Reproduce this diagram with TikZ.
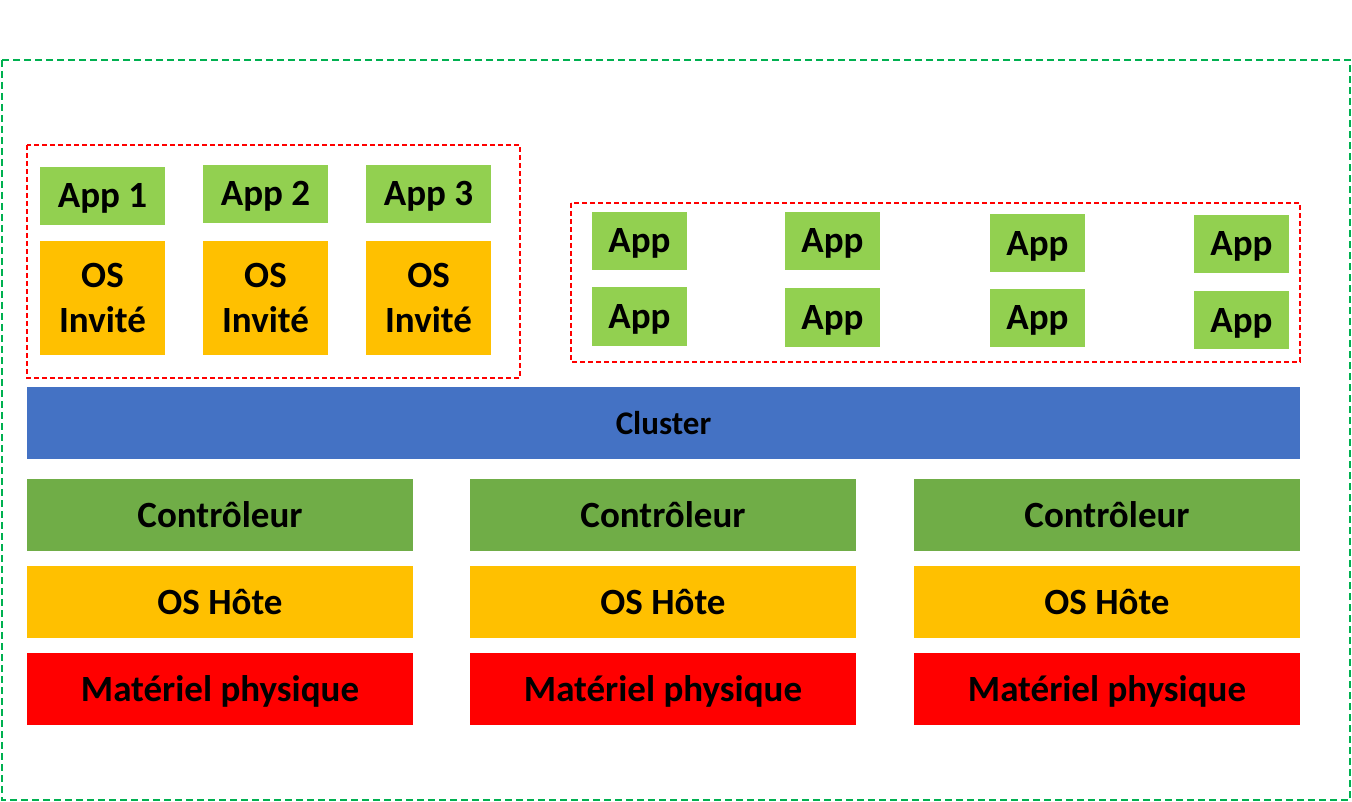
\documentclass[tikz,border=0pt]{standalone}
\usepackage{fontspec}
\setmainfont{Carlito}
\usetikzlibrary{positioning}
\definecolor{appgreen}{HTML}{92D050}
\definecolor{osorange}{HTML}{FFC000}
\definecolor{ctrlgreen}{HTML}{70AD47}
\definecolor{clusterblue}{HTML}{4472C4}
\definecolor{hwred}{HTML}{FF0000}
\definecolor{framegreen}{HTML}{00B050}
\tikzset{
    block/.style = {rectangle, inner sep=0pt, align=center,
        font=\fontsize{37}{45}\selectfont\bfseries},
    oneline/.style = {block, text height=30.5pt, text depth=6.5pt},
    app/.style = {oneline, fill=appgreen, minimum width=95pt, minimum height=58pt},
    vmapp/.style = {app, minimum width=125pt},
    guestos/.style = {block, fill=osorange, minimum width=125pt, minimum height=114pt},
    layer/.style = {oneline, minimum width=386pt, minimum height=72pt},
    vmframe/.style = {draw=hwred, line width=1.5pt, dash pattern=on 5pt off 3pt},
    outerframe/.style = {draw=framegreen, line width=1.5pt, dash pattern=on 7pt off 4pt}
}

\begin{document}
\begin{tikzpicture}[x=1pt, y=-1pt]
        \useasboundingbox (0,0) rectangle (1352,802);
        \draw [outerframe] (2,60) rectangle (1350,800);
        % machines virtuelles
        \draw [vmframe] (27,145) rectangle (520,378);
        \node [vmapp] (app1) at (102.5,196) {App 1};
        \node [vmapp] (app2) at (265.5,194) {App 2};
        \node [vmapp] (app3) at (428.5,194) {App 3};
        \node [guestos] (os1) at (102.5,298) {OS\\Invité};
        \node [guestos] (os2) at (265.5,298) {OS\\Invité};
        \node [guestos] (os3) at (428.5,298) {OS\\Invité};
        % conteneurs
        \draw [vmframe] (571,203) rectangle (1300,362);
        \node [app] (appa1) at (639.5,241) {App};
        \node [app] (appa2) at (639.5,316.5) {App};
        \node [app] (appb1) at (832.5,241) {App};
        \node [app] (appb2) at (832.5,317.5) {App};
        \node [app] (appc1) at (1037.5,243.5) {App};
        \node [app] (appc2) at (1037.5,318) {App};
        \node [app] (appd1) at (1241.5,244) {App};
        \node [app] (appd2) at (1241.5,320) {App};
        \node [oneline, fill=clusterblue, minimum width=1273pt, minimum height=72pt,
            text height=27.5pt, text depth=5.5pt,
            font=\fontsize{33}{40}\selectfont\bfseries] (cluster) at (663.5,423) {Cluster};
        % hotes
        \foreach \name/\x in {h1/220, h2/663, h3/1107} {
            \node [layer, fill=ctrlgreen] (\name ctrl) at (\x,515) {Contrôleur};
            \node [layer, fill=osorange] (\name os) at (\x,602) {OS Hôte};
            \node [layer, fill=hwred] (\name hw) at (\x,689) {Matériel physique};
        }
    \end{tikzpicture}
\end{document}
